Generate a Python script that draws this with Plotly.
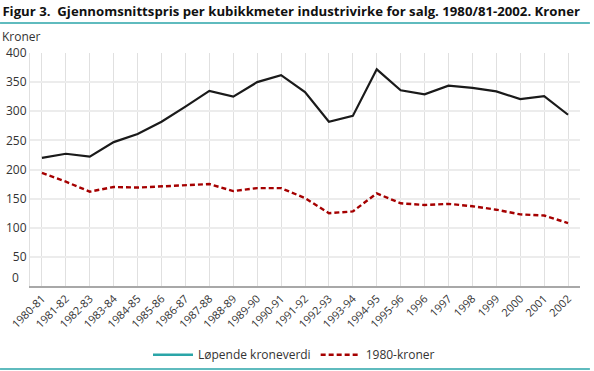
import plotly.graph_objects as go

categories = ["1980-81", "1981-82", "1982-83", "1983-84", "1984-85", "1985-86", "1986-87",
              "1987-88", "1988-89", "1989-90", "1990-91", "1991-92", "1992-93", "1993-94",
              "1994-95", "1995-96", "1996", "1997", "1998", "1999", "2000", "2001", "2002"]
lopende = [220, 227, 222, 247, 261, 282, 308, 335, 325, 350, 362, 333, 282, 292,
           372, 336, 329, 344, 340, 334, 321, 326, 294]
kroner1980 = [194, 179, 162, 170, 169, 171, 172, 175, 163, 168, 168, 151, 125, 128,
              159, 142, 139, 141, 137, 131, 123, 121, 108]
y_ticks = [0, 50, 100, 150, 200, 250, 300, 350, 400]

FONT = "Open Sans"
TEXT = "#333333"
TEAL = "#2aa5a8"
RED = "#a50000"
DASH = "5px,3px"

fig = go.Figure()
fig.add_trace(go.Scatter(x=categories, y=lopende, mode="lines", showlegend=False,
                         line=dict(color="#1a1a1a", width=2.2)))
fig.add_trace(go.Scatter(x=categories, y=kroner1980, mode="lines", showlegend=False,
                         line=dict(color=RED, width=2.4, dash=DASH)))
# legend entries
fig.add_trace(go.Scatter(x=[None], y=[None], mode="lines", name="Løpende kroneverdi",
                         line=dict(color=TEAL, width=2.5)))
fig.add_trace(go.Scatter(x=[None], y=[None], mode="lines", name="1980-kroner",
                         line=dict(color=RED, width=2.4, dash=DASH)))

fig.update_layout(
    width=594, height=371, autosize=False,
    margin=dict(l=30, r=14, t=53, b=85, autoexpand=False),
    paper_bgcolor="white", plot_bgcolor="white",
    font=dict(family=FONT, size=12, color=TEXT),
    title=dict(text="<b>Figur 3.  Gjennomsnittspris per kubikkmeter industrivirke for salg. 1980/81-2002. Kroner</b>",
               x=0.004, xref="container", xanchor="left",
               y=1 - 11 / 371, yref="container", yanchor="middle",
               font=dict(family=FONT, size=13.2, color="#111111")),
    showlegend=True,
    legend=dict(orientation="h", x=0.48, xanchor="center", y=-0.295, yanchor="middle",
                font=dict(size=12, color=TEXT), bgcolor="rgba(0,0,0,0)",
                itemwidth=40, tracegroupgap=0),
    xaxis=dict(type="category", range=[-0.5, 22.5], showgrid=True, gridcolor="#e0e0e0",
               gridwidth=1, tickangle=-45, tickfont=dict(size=11, color=TEXT),
               showline=True, linecolor="#a8a8a8", linewidth=2, ticks="", fixedrange=True,
               automargin=False),
    yaxis=dict(range=[0, 400], tickvals=y_ticks,
               ticktext=["" if v == 0 else str(v) for v in y_ticks],
               showgrid=True, gridcolor="#ececec", gridwidth=2, zeroline=False,
               showline=True, linecolor="#e0e0e0", linewidth=1, ticks="",
               ticklabelstandoff=0, tickfont=dict(size=12, color=TEXT), automargin=False,
               fixedrange=True),
    shapes=[
        dict(type="line", xref="paper", yref="paper", x0=-0.0545, x1=1.018,
             y0=1.129, y1=1.129, line=dict(color=TEAL, width=1.5)),
        dict(type="line", xref="paper", yref="paper", x0=-0.0545, x1=1.018,
             y0=-0.356, y1=-0.356, line=dict(color=TEAL, width=1.5)),
    ],
    annotations=[
        dict(text="Kroner", xref="paper", yref="paper", x=-0.0545, y=1.07,
             xanchor="left", yanchor="middle", showarrow=False,
             font=dict(size=12, color=TEXT)),
        dict(text="0", xref="paper", yref="y", x=0, y=0, xanchor="right",
             yanchor="middle", xshift=-9, yshift=9, showarrow=False,
             font=dict(size=12, color=TEXT)),
    ],
)

fig.write_html("out.html", config={"displayModeBar": False},
               post_script="document.body.style.margin='0px';document.body.style.padding='0px';")
